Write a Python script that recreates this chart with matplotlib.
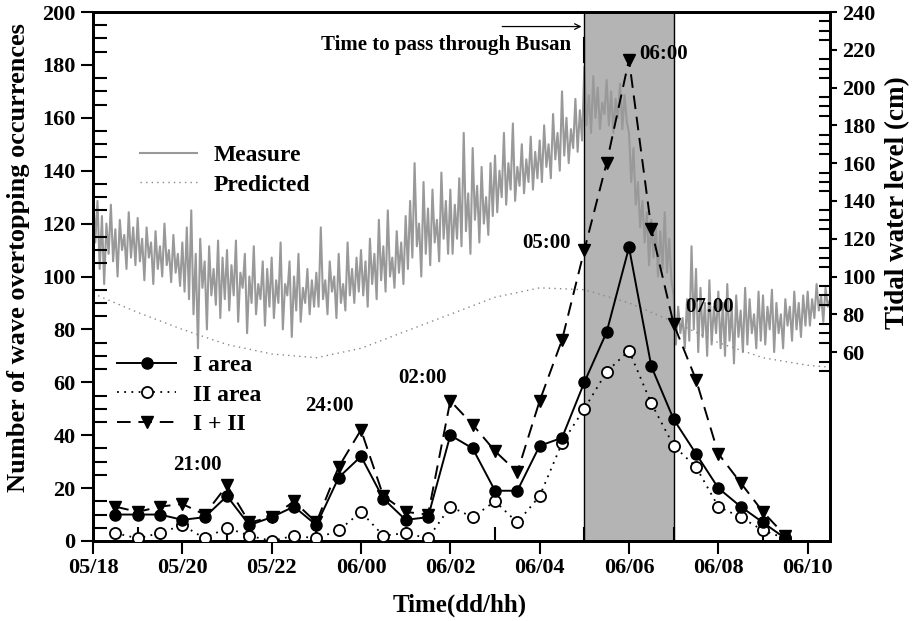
import matplotlib
matplotlib.use('Agg')
import matplotlib.pyplot as plt
import numpy as np
from matplotlib.ticker import MultipleLocator, FixedLocator

plt.rcParams['font.family'] = ['Liberation Serif', 'DejaVu Serif']
plt.rcParams['font.weight'] = 'bold'
plt.rcParams['axes.labelweight'] = 'bold'

# --- overtopping counts, every half hour (x in hours, 24 = 06/00) ---
count_hours = np.arange(18.5, 33.51, 0.5)
area_1 = [10, 10, 10, 8, 9, 17, 6, 9, 13, 6, 24, 32, 16, 8, 9, 40,
          35, 19, 19, 36, 39, 60, 79, 111, 66, 46, 33, 20, 13, 7, 1]
area_2 = [3, 1, 3, 6, 1, 5, 2, 0, 2, 1, 4, 11, 2, 3, 1, 13,
          9, 15, 7, 17, 37, 50, 64, 72, 52, 36, 28, 13, 9, 4, 1]
area_sum = [13, 11, 13, 14, 10, 21, 7, 9, 15, 7, 28, 42, 17, 11, 10, 53,
            44, 34, 26, 53, 76, 110, 143, 182, 118, 82, 61, 33, 22, 11, 2]

# --- tidal level (cm), measured every 3 minutes ---
tide_hours = np.round(np.arange(18.0, 34.501, 0.05), 3)
measure_cm = [
    145, 118, 140, 104, 132, 96, 128, 112, 138, 108, 125, 100, 130, 114, 122, 104, 134, 110, 126, 106,
    131, 108, 120, 98, 126, 110, 118, 96, 124, 104, 116, 100, 128, 106, 114, 97, 122, 102, 112, 95,
    118, 92, 126, 88, 135, 80, 112, 62, 120, 94, 108, 72, 116, 90, 104, 85, 119, 78, 110, 88,
    114, 82, 106, 90, 119, 76, 102, 94, 112, 70, 100, 86, 116, 80, 96, 88, 108, 74, 104, 84,
    110, 78, 98, 86, 118, 72, 96, 90, 108, 68, 100, 82, 112, 76, 94, 86, 104, 80, 98, 84,
    102, 84, 126, 88, 98, 80, 108, 92, 100, 78, 112, 86, 96, 82, 118, 90, 104, 86, 110, 92,
    114, 90, 108, 84, 120, 96, 112, 88, 130, 98, 116, 92, 135, 100, 110, 94, 124, 102, 118, 96,
    132, 104, 140, 110, 160, 116, 128, 100, 150, 112, 136, 106, 146, 118, 130, 108, 155, 120, 140, 112,
    146, 112, 138, 120, 152, 116, 176, 124, 144, 112, 168, 130, 148, 118, 158, 128, 142, 122, 160, 132,
    164, 134, 156, 142, 176, 138, 160, 146, 181, 140, 158, 148, 170, 144, 162, 150, 174, 146, 166, 152,
    172, 150, 180, 158, 170, 152, 186, 162, 176, 156, 198, 164, 184, 160, 178, 168, 194, 166, 188, 172,
    211, 180, 196, 176, 206, 184, 200, 178, 192, 186, 204, 180, 198, 176, 194, 184, 202, 178, 196, 182,
    176, 150, 168, 138, 150, 126, 140, 118, 134, 106, 130, 110, 128, 100, 124, 104, 134, 102, 120, 98,
    90, 64, 84, 70, 78, 62, 88, 66, 116, 72, 104, 60, 94, 68, 86, 58, 98, 64, 84, 70,
    92, 62, 86, 58, 96, 66, 84, 54, 90, 68, 82, 60, 94, 64, 88, 70, 80, 62, 92, 66,
    90, 64, 84, 72, 93, 60, 86, 70, 80, 62, 88, 74, 84, 66, 92, 72, 86, 68, 90, 74,
    92, 74, 88, 78, 96, 82, 90, 76, 94, 84, 88,
]
pred_hours = [18, 19, 20, 21, 22, 23, 24, 25, 26, 27, 28, 29, 30, 31, 32, 33, 34, 34.5]
predicted_cm = [91, 81, 72, 64, 59, 57, 62, 71, 80, 89, 94, 93, 86, 76, 65, 57, 53, 52]

tick_hours = [18, 20, 22, 24, 26, 28, 30, 32, 34]
tick_labels = ['05/18', '05/20', '05/22', '06/00', '06/02', '06/04', '06/06', '06/08', '06/10']

# peak labels: (text, hour, count)
peak_notes = [('21:00', 20.33, 28.7), ('24:00', 23.3, 51), ('02:00', 25.38, 61.6),
              ('05:00', 28.16, 112.7), ('06:00', 30.77, 184), ('07:00', 31.8, 88.5)]

fig = plt.figure(figsize=(9.2, 6.21), dpi=100)
ax = fig.add_axes([93 / 920, 1 - 541 / 621, 737 / 920, 529 / 621])
ax2 = ax.twinx()
ax.set_zorder(ax2.get_zorder() + 1)
ax.patch.set_visible(False)

# tide on the right axis
ax2.axvspan(29, 31, facecolor='#b4b4b4', edgecolor='none', zorder=0)
ax2.plot(tide_hours, measure_cm, color='#999999', lw=1.5, zorder=1, label='Measure')
ax2.plot(pred_hours, predicted_cm, color='#888888', lw=1.0, ls=(0, (1, 3)), zorder=1,
         label='Predicted')
ax2.set_ylim(-40, 240)
ax2.yaxis.set_major_locator(FixedLocator(np.arange(60, 241, 20)))
ax2.yaxis.set_minor_locator(FixedLocator(np.arange(50, 241, 5)))
ax2.tick_params(axis='y', which='major', direction='out', length=5, width=1.5,
                labelsize=16, pad=4)
ax2.tick_params(axis='y', which='minor', direction='in', length=8, width=1.5)
ax2.set_ylabel('Tidal water level (cm)', fontsize=19.5)
ax2.yaxis.set_label_coords(1.075, 0.639)
ax2.legend(loc='upper left', bbox_to_anchor=(0.064, 0.75), frameon=False,
           fontsize=17, borderpad=0, borderaxespad=0, handlelength=2.4,
           handletextpad=0.7, labelspacing=0.35)

# counts on the left axis
ax.axvline(29, color='black', lw=1)
ax.axvline(31, color='black', lw=1)
ax.plot(count_hours, area_1, color='black', lw=1.4, marker='o', ms=8,
        mfc='black', mec='black', label='I area', zorder=4)
ax.plot(count_hours, area_2, color='black', lw=1.3, ls=(0, (1, 3)), marker='o', ms=8,
        mfc='white', mec='black', mew=1.3, label='II area', zorder=3)
ax.plot(count_hours, area_sum, color='black', lw=1.4, ls=(0, (7, 4)), marker='v', ms=9,
        mfc='black', mec='black', label='I + II', zorder=5)

for txt, hx, hy in peak_notes:
    ax.text(hx, hy, txt, ha='center', va='center', fontsize=15, zorder=6)

ax.annotate('', xy=(29, 194.5), xytext=(27.1, 194.5),
            arrowprops=dict(arrowstyle='->', color='black', lw=0.9))
ax.plot([29, 29], [181, 190], color='black', lw=1.5)
ax.text(25.9, 187.5, 'Time to pass through Busan', ha='center', va='center', fontsize=15)

ax.set_xlim(18, 34.5)
ax.set_ylim(0, 200)
ax.set_xticks(tick_hours, tick_labels)
ax.xaxis.set_minor_locator(FixedLocator(np.arange(19, 34, 2)))
ax.yaxis.set_major_locator(MultipleLocator(20))
ax.yaxis.set_minor_locator(MultipleLocator(5))
ax.tick_params(axis='both', which='major', direction='out', length=9, width=1.5,
               labelsize=16)
ax.tick_params(axis='x', which='minor', direction='in', length=10, width=1.5)
ax.tick_params(axis='y', which='minor', direction='in', length=10, width=1.5)
ax.set_xlabel('Time(dd/hh)', fontsize=18)
ax.xaxis.set_label_coords(0.498, -0.1)
ax.set_ylabel('Number of wave overtopping occurrences', fontsize=19)
ax.yaxis.set_label_coords(-0.086, 0.535)

for sp in ax.spines.values():
    sp.set_linewidth(2)
for sp in ax2.spines.values():
    sp.set_linewidth(2)

ax.legend(loc='upper left', bbox_to_anchor=(0.033, 0.353), frameon=False,
          fontsize=17, borderpad=0, borderaxespad=0, handlelength=2.5,
          handletextpad=0.7, labelspacing=0.35)

fig.savefig('out.png', dpi=100)
